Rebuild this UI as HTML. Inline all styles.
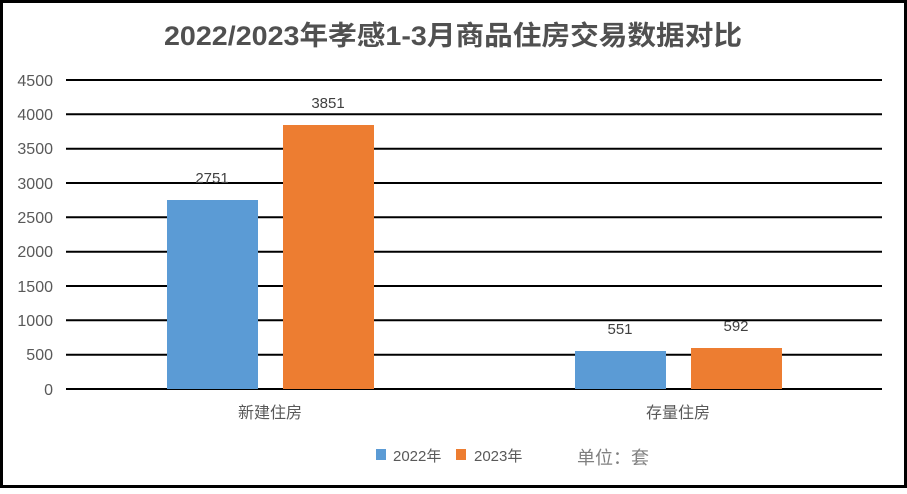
<!DOCTYPE html>
<html><head><meta charset="utf-8"><style>
body{margin:0;background:#fff}
svg text{font-family:"Liberation Sans","Noto Sans CJK SC",sans-serif}
</style></head><body>
<svg width="907" height="489" xmlns="http://www.w3.org/2000/svg">
<rect x="1.5" y="1.5" width="904" height="485" fill="#fff" stroke="#000" stroke-width="3"/>
<text x="453" y="45" text-anchor="middle" font-size="27" font-weight="bold" fill="#505050" textLength="578" lengthAdjust="spacingAndGlyphs">2022/2023年孝感1-3月商品住房交易数据对比</text>
<g stroke="#000" stroke-width="2">
<line x1="66" x2="882" y1="80" y2="80"/><line x1="66" x2="882" y1="114.3" y2="114.3"/>
<line x1="66" x2="882" y1="148.7" y2="148.7"/><line x1="66" x2="882" y1="183" y2="183"/>
<line x1="66" x2="882" y1="217.3" y2="217.3"/><line x1="66" x2="882" y1="251.7" y2="251.7"/>
<line x1="66" x2="882" y1="286" y2="286"/><line x1="66" x2="882" y1="320.3" y2="320.3"/>
<line x1="66" x2="882" y1="354.7" y2="354.7"/><line x1="66" x2="882" y1="389" y2="389"/>
</g>
<g font-size="16" fill="#595959" text-anchor="end">
<text x="53" y="86">4500</text><text x="53" y="120">4000</text><text x="53" y="154">3500</text>
<text x="53" y="189">3000</text><text x="53" y="223">2500</text><text x="53" y="257">2000</text>
<text x="53" y="292">1500</text><text x="53" y="326">1000</text><text x="53" y="360">500</text><text x="53" y="395">0</text>
</g>
<rect x="167" y="200" width="91" height="189" fill="#5b9bd5"/>
<rect x="283" y="125" width="91" height="264" fill="#ed7d31"/>
<rect x="575" y="351" width="91" height="38" fill="#5b9bd5"/>
<rect x="691" y="348" width="91" height="41" fill="#ed7d31"/>
<g font-size="15" fill="#404040" text-anchor="middle">
<text x="212" y="183">2751</text><text x="328" y="108">3851</text>
<text x="620" y="334">551</text><text x="736" y="331">592</text>
</g>
<g font-size="16" fill="#595959" text-anchor="middle">
<text x="270" y="418">新建住房</text><text x="678" y="418">存量住房</text>
</g>
<rect x="376" y="449" width="10" height="11" fill="#5b9bd5"/>
<text x="393" y="461" font-size="15" fill="#595959">2022年</text>
<rect x="456" y="449" width="10" height="11" fill="#ed7d31"/>
<text x="474" y="461" font-size="15" fill="#595959">2023年</text>
<text x="577" y="464" font-size="18" fill="#7f7f7f">单位：套</text>
</svg>
</body></html>
